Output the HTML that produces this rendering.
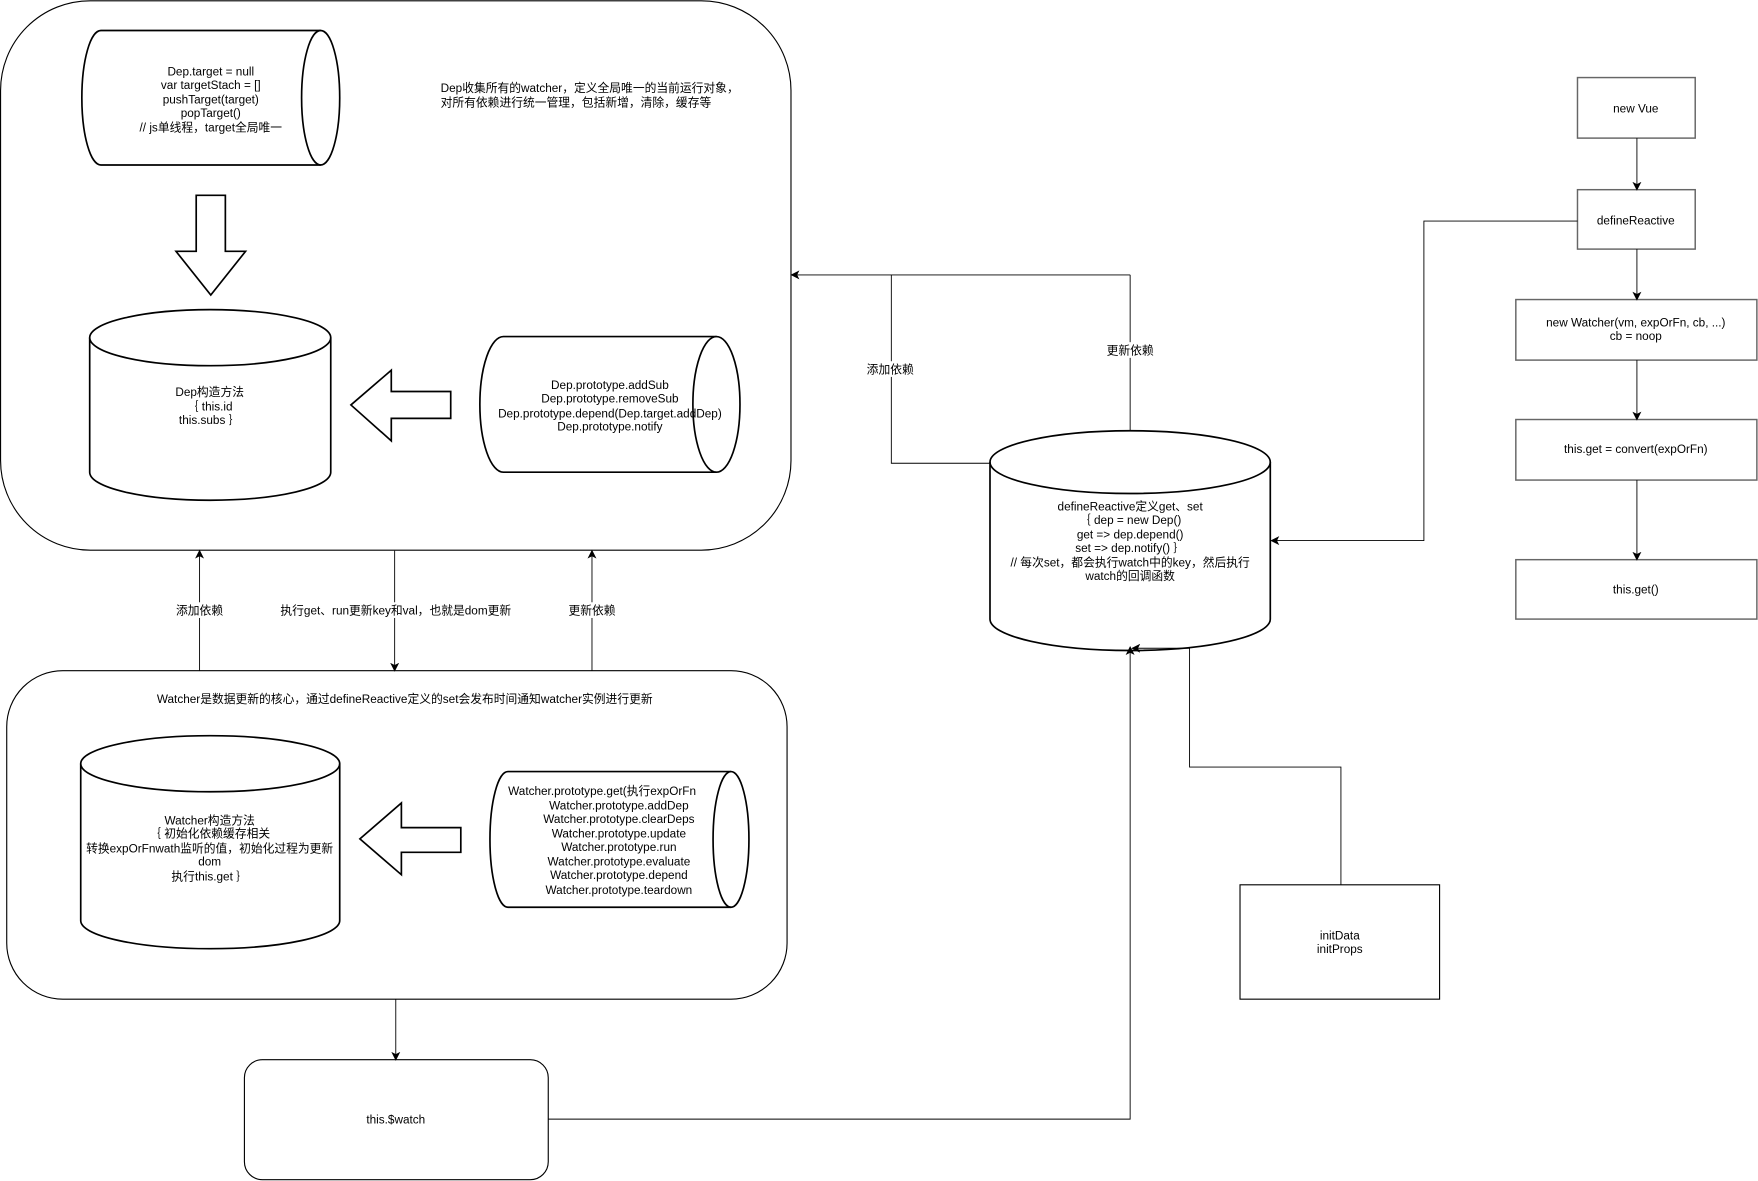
<!DOCTYPE html>
<html><head><meta charset="utf-8"><style>html,body{margin:0;padding:0;background:#fff}svg{display:block}</style></head><body>
<svg width="1758" height="1181" viewBox="0 0 1568 1053" xmlns="http://www.w3.org/2000/svg" font-family="Liberation Sans, Noto Sans CJK SC, sans-serif" font-size="10.5" fill="none" stroke="#000">
<defs><marker id="a" markerWidth="8" markerHeight="8" refX="7" refY="4" orient="auto" markerUnits="userSpaceOnUse"><path d="M0,0 L8,4 L0,8 L2,4Z" fill="#000" stroke="none"/></marker></defs>
<rect x="0.5" y="0.5" width="705" height="490" rx="80" stroke-width="1"/>
<rect x="6" y="598" width="696" height="293" rx="50"/>
<rect x="218" y="945" width="271" height="107" rx="16"/>
<!-- top horizontal cylinder -->
<path d="M90,27 L286,27 A17,60 0 0 1 286,147 L90,147 A17,60 0 0 1 90,27Z" stroke-width="1.5" fill="#fff"/>
<path d="M286,27 A17,60 0 0 0 286,147" stroke-width="1.5"/>
<!-- down arrow -->
<path d="M175,174 L201,174 L201,224 L219,224 L188,263 L157,224 L175,224Z" stroke-width="1.5" fill="#fff"/>
<!-- Dep cylinder -->
<path d="M80,301 L80,421 A107.5,25 0 0 0 295,421 L295,301" stroke-width="1.5"/>
<ellipse cx="187.5" cy="301" rx="107.5" ry="25" stroke-width="1.5"/>
<path d="M313,361 L349,330 L349,349 L402,349 L402,373 L349,373 L349,393Z" stroke-width="1.5"/>
<path d="M449,300 L639,300 A21,60.5 0 0 1 639,421 L449,421 A21,60.5 0 0 1 449,300Z" stroke-width="1.5"/>
<path d="M639,300 A21,60.5 0 0 0 639,421" stroke-width="1.5"/>
<!-- watcher -->
<path d="M72,681 L72,821 A115.5,25 0 0 0 303,821 L303,681" stroke-width="1.5"/>
<ellipse cx="187.5" cy="681" rx="115.5" ry="25" stroke-width="1.5"/>
<path d="M321,748 L358,716 L358,738 L411,738 L411,760 L358,760 L358,780Z" stroke-width="1.5"/>
<path d="M453,688 L652,688 A16,60.5 0 0 1 652,809 L453,809 A16,60.5 0 0 1 453,688Z" stroke-width="1.5"/>
<path d="M652,688 A16,60.5 0 0 0 652,809" stroke-width="1.5"/>
<!-- defineReactive cylinder -->
<path d="M883,412 L883,552 A125,28 0 0 0 1133,552 L1133,412" stroke-width="1.5"/>
<ellipse cx="1008" cy="412" rx="125" ry="28" stroke-width="1.5"/>
<!-- right column boxes -->
<g stroke="#666" stroke-width="1.3">
<rect x="1407" y="69" width="105" height="54"/>
<rect x="1407" y="169" width="105" height="53"/>
<rect x="1352" y="267" width="215" height="54"/>
<rect x="1352" y="374" width="215" height="54"/>
<rect x="1352" y="499" width="215" height="53"/>
</g>
<rect x="1106" y="789" width="178" height="102"/>
<g stroke-width="0.8">
<line x1="1460" y1="123" x2="1460" y2="169" marker-end="url(#a)"/>
<line x1="1460" y1="222" x2="1460" y2="267" marker-end="url(#a)"/>
<line x1="1460" y1="321" x2="1460" y2="374" marker-end="url(#a)"/>
<line x1="1460" y1="428" x2="1460" y2="499" marker-end="url(#a)"/>
<polyline points="1407,197 1270,197 1270,482 1134,482" marker-end="url(#a)"/>
<polyline points="883,413 795,413 795,245 706,245" marker-end="url(#a)"/>
<line x1="1008" y1="384" x2="1008" y2="245"/><line x1="795" y1="245" x2="1008" y2="245"/>
<line x1="178" y1="598" x2="178" y2="491" marker-end="url(#a)"/>
<line x1="352" y1="491" x2="352" y2="598" marker-end="url(#a)"/>
<line x1="528" y1="598" x2="528" y2="491" marker-end="url(#a)"/>
<line x1="353" y1="891" x2="353" y2="945" marker-end="url(#a)"/>
<polyline points="489,998 1008,998 1008,577" marker-end="url(#a)"/>
<polyline points="1196,789 1196,684 1061,684 1061,578 1010,578" marker-end="url(#a)"/>
</g>
<g fill="#000" stroke="none" text-anchor="middle">
<text x="188" y="67">Dep.target = null</text>
<text x="188" y="79">var targetStach = []</text>
<text x="188" y="92">pushTarget(target)</text>
<text x="188" y="104">popTarget()</text>
<text x="188" y="117">// js单线程，target全局唯一</text>
<text x="187" y="353">Dep构造方法</text>
<text x="187" y="366">｛ this.id</text>
<text x="187" y="378">this.subs ｝</text>
<text x="544" y="347">Dep.prototype.addSub</text>
<text x="544" y="359">Dep.prototype.removeSub</text>
<text x="544" y="372">Dep.prototype.depend(Dep.target.addDep)</text>
<text x="544" y="384">Dep.prototype.notify</text>
<text text-anchor="start" x="393" y="82">Dep收集所有的watcher，定义全局唯一的当前运行对象，</text>
<text text-anchor="start" x="393" y="95">对所有依赖进行统一管理，包括新增，清除，缓存等</text>
<text x="361" y="627">Watcher是数据更新的核心，通过defineReactive定义的set会发布时间通知watcher实例进行更新</text>
<text x="187" y="735">Watcher构造方法</text>
<text x="187" y="747">｛ 初始化依赖缓存相关</text>
<text x="187" y="760">转换expOrFnwath监听的值，初始化过程为更新</text>
<text x="187" y="772">dom</text>
<text x="187" y="785">执行this.get ｝</text>
<text x="537" y="709">Watcher.prototype.get(执行expOrFn</text>
<text x="552" y="722">Watcher.prototype.addDep</text>
<text x="552" y="734">Watcher.prototype.clearDeps</text>
<text x="552" y="747">Watcher.prototype.update</text>
<text x="552" y="759">Watcher.prototype.run</text>
<text x="552" y="772">Watcher.prototype.evaluate</text>
<text x="552" y="784">Watcher.prototype.depend</text>
<text x="552" y="797">Watcher.prototype.teardown</text>
<text x="1008" y="455">defineReactive定义get、set</text>
<text x="1008" y="467">｛ dep = new Dep()</text>
<text x="1008" y="480">get =&gt;  dep.depend()</text>
<text x="1008" y="492">set =&gt; dep.notify() ｝</text>
<text x="1008" y="505">// 每次set，都会执行watch中的key，然后执行</text>
<text x="1008" y="517">watch的回调函数</text>
<text x="1459" y="100">new Vue</text>
<text x="1459" y="200">defineReactive</text>
<text x="1459" y="291">new Watcher(vm, expOrFn, cb, ...)</text>
<text x="1459" y="303">cb = noop</text>
<text x="1459" y="404">this.get = convert(expOrFn)</text>
<text x="1459" y="529">this.get()</text>
<text x="1195" y="838">initData</text>
<text x="1195" y="850">initProps</text>
<text x="353" y="1002">this.$watch</text>
</g>
<g font-size="10.5" text-anchor="middle">
<rect x="150" y="537" width="56" height="14" fill="#fff" stroke="none"/>
<text x="178" y="548" fill="#000" stroke="none">添加依赖</text>
<rect x="246" y="537" width="214" height="14" fill="#fff" stroke="none"/>
<text x="353" y="548" fill="#000" stroke="none">执行get、run更新key和val，也就是dom更新</text>
<rect x="503" y="537" width="50" height="14" fill="#fff" stroke="none"/>
<text x="528" y="548" fill="#000" stroke="none">更新依赖</text>
<rect x="768" y="322" width="52" height="14" fill="#fff" stroke="none"/>
<text x="794" y="333" fill="#000" stroke="none">添加依赖</text>
<rect x="982" y="305" width="52" height="14" fill="#fff" stroke="none"/>
<text x="1008" y="316" fill="#000" stroke="none">更新依赖</text>
</g>
</svg>
</body></html>
